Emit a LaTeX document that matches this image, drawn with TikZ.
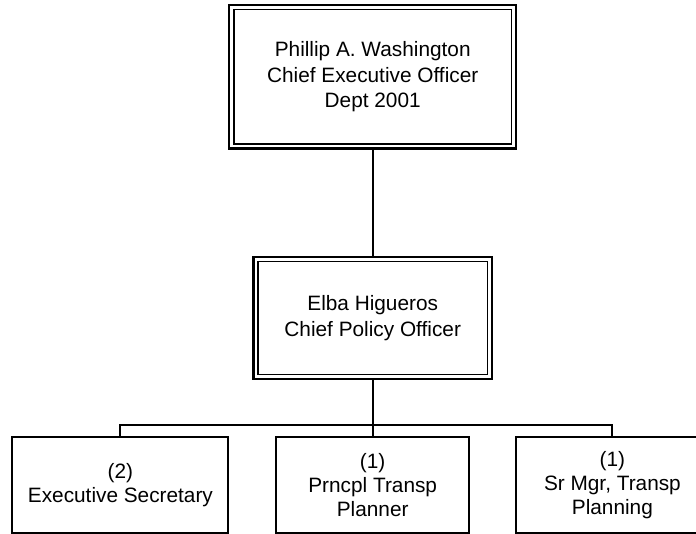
\documentclass[tikz,border=0pt]{standalone}
\usepackage{fontspec}
\setmainfont{Liberation Sans}
\usetikzlibrary{positioning}

\tikzset{
  box/.style={draw, line width=2pt, inner sep=0pt, outer sep=0pt, align=center,
    font=\fontsize{20.8}{24}\selectfont},
  headbox/.style={box, line width=2.3pt, font=\fontsize{20.8}{25.8}\selectfont},
  link/.style={draw, line width=2pt}
}

\begin{document}
\begin{tikzpicture}[x=1pt, y=1pt]
			\useasboundingbox[fill=white] (0,0) rectangle (696,534);
			\node[headbox, minimum width=287pt, minimum height=143.5pt] (ceo) at (372.7,457.2) {Phillip A. Washington\\Chief Executive Officer\\Dept 2001};
			\node[headbox, minimum width=238.5pt, minimum height=122pt, below = 108.5pt of ceo] (cpo) {Elba Higueros\\Chief Policy Officer};
			\node[box, minimum width=192.6pt, minimum height=96pt, below = 58pt of cpo] (pln) {(1)\\Prncpl Transp\\Planner};
			\node[box, minimum width=216pt, minimum height=96pt, left = 48pt of pln] (sec) {(2)\\Executive Secretary};
			\node[box, minimum width=192pt, minimum height=96pt, right = 47.4pt of pln] (mgr) {(1)\\Sr Mgr, Transp\\Planning};
			\foreach \n in {ceo, cpo}
				\draw[line width=1.4pt] ([shift={(4.6pt,-4.6pt)}]\n.north west) rectangle ([shift={(-4.6pt,4.6pt)}]\n.south east);
			\draw[link] (ceo) -- (cpo);
			\draw[link] (cpo.south) -- ++(0,-46) coordinate (bus);
			\draw[link] (sec.north) |- (bus) -| (mgr.north);
			\draw[link] (bus) -- (pln.north);
		\end{tikzpicture}
\end{document}
